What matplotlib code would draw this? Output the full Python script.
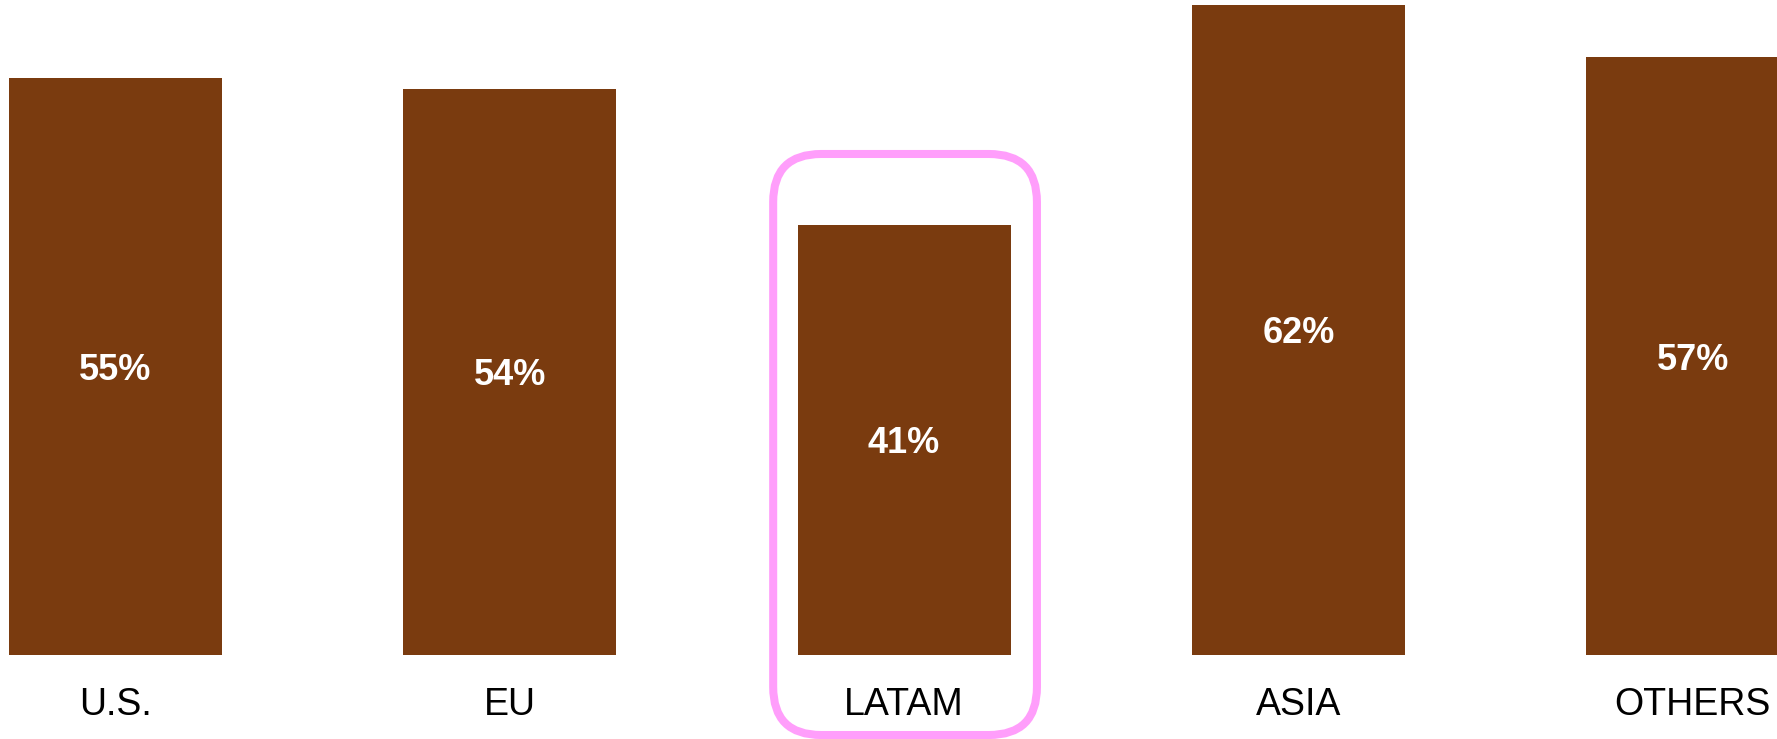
import matplotlib
matplotlib.use("Agg")
import matplotlib.pyplot as plt
from matplotlib.patches import FancyBboxPatch

regions = ["U.S.", "EU", "LATAM", "ASIA", "OTHERS"]
shares = [55, 54, 41, 62, 57]
highlight = "LATAM"

bar_color = "#7A3B0F"
box_color = "#FF9EFB"

plt.rcParams["font.family"] = ["Liberation Sans", "DejaVu Sans"]

fig = plt.figure(figsize=(17.77, 7.39), dpi=100)
ax = fig.add_axes([0, 0, 1, 1])

x = list(range(len(regions)))
ax.bar(x, shares, width=0.54, color=bar_color, linewidth=0)

for xi, name, v in zip(x, regions, shares):
    ax.text(xi, v / 2, f"{v}%", ha="center", va="center_baseline",
            color="white", fontsize=26, fontweight="bold")
    ax.text(xi, -5.7, name, ha="center", va="baseline",
            color="black", fontsize=27)

ax.set_xlim(-0.293, 4.214)
ax.set_ylim(-8.01, 62.44)

# rounded frame around the highlighted region
px_x = 1 / 394.25   # data units per pixel on x
px_y = 1 / 10.49    # data units per pixel on y
hx = regions.index(highlight)
left = hx - 0.332
right = hx + 0.337
top = 47.76
bottom = -7.63
frame = FancyBboxPatch((left, bottom), right - left, top - bottom,
                       boxstyle=f"round,pad=0,rounding_size={48 * px_x}",
                       mutation_aspect=px_y / px_x,
                       fill=False, edgecolor=box_color, linewidth=5.8,
                       clip_on=False, zorder=3)
ax.add_patch(frame)

ax.axis("off")
fig.savefig("out.png", dpi=100)
